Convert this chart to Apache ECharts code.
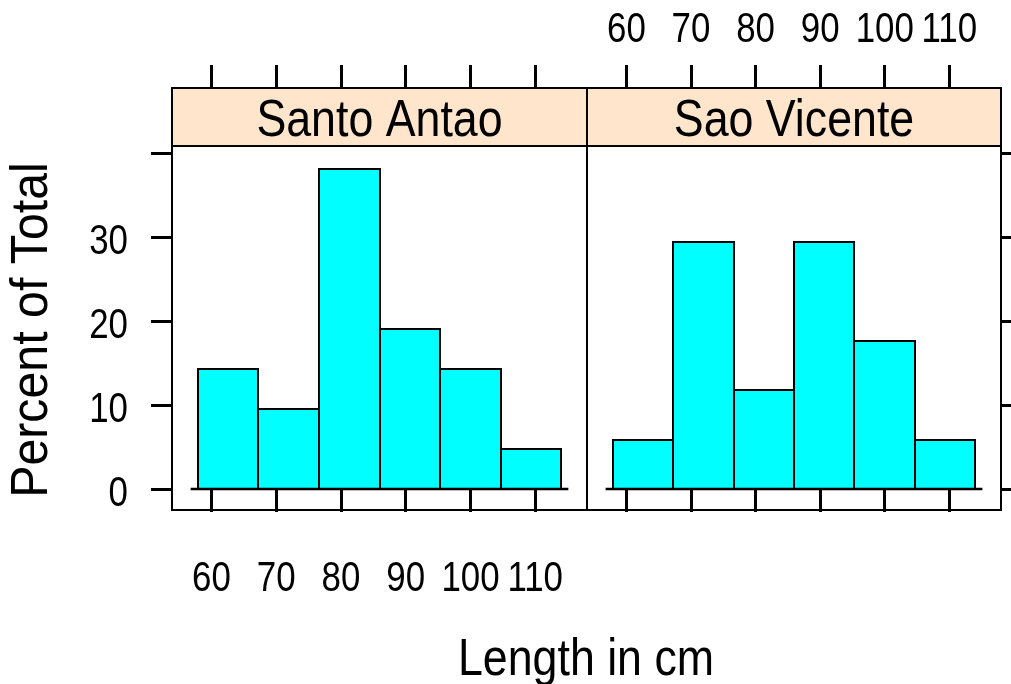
<!DOCTYPE html>
<html>
<head>
<meta charset="utf-8">
<script src="https://cdn.jsdelivr.net/npm/echarts@6/dist/echarts.min.js"></script>
<style>
  html, body { margin: 0; padding: 0; background: #fff; }
  #chart { width: 1011px; height: 684px; }
</style>
</head>
<body>
<div id="chart"></div>
<script>
// Histogram bins (cm) shared by both islands
const binEdges = [57.9, 67.25, 76.6, 85.95, 95.3, 104.65, 114.0];
const panelNames = ['Santo Antao', 'Sao Vicente'];
// Percent of total per bin
const santoAntao = [14.29, 9.52, 38.10, 19.05, 14.29, 4.76];
const saoVicente = [5.88, 29.41, 11.76, 29.41, 17.65, 5.88];
const xTicks = [60, 70, 80, 90, 100, 110];
const yTicks = [0, 10, 20, 30, 40];
const yLabels = [0, 10, 20, 30];
const xTitle = 'Length in cm';
const yTitle = 'Percent of Total';

// ---- layout ----
const FONT = '"Liberation Sans", Arial, sans-serif';
const TICK_FONT = 42, TICK_SQUEEZE = 0.83;     // narrow-looking lettering
const TITLE_FONT = 52, TITLE_SQUEEZE = 0.86;
const panels = [{ left: 172, width: 415 }, { left: 587, width: 414 }];
const TOP = 146, HEIGHT = 364, STRIP_TOP = 88;
const X_MIN = 53.9, X_MAX = 118.0, Y_MIN = -2.5, Y_MAX = 40.9;
const tickStyle = { color: '#000', width: 3 };

function xAxisDef(gridIndex, position) {
  return {
    type: 'value', gridIndex, position,
    offset: position === 'top' ? TOP - STRIP_TOP : 0,
    min: X_MIN, max: X_MAX,
    axisLine: { show: false },
    splitLine: { show: false },
    axisTick: { show: true, inside: false, length: 23, lineStyle: tickStyle, customValues: xTicks },
    axisLabel: { show: false }
  };
}

function yAxisDef(gridIndex, position) {
  return {
    type: 'value', gridIndex, position,
    min: Y_MIN, max: Y_MAX,
    axisLine: { show: false },
    splitLine: { show: false },
    axisTick: { show: true, inside: false, length: 21, lineStyle: tickStyle, customValues: yTicks },
    axisLabel: { show: false }
  };
}

function barItems(values) {
  return values.map((v, i) => [binEdges[i], binEdges[i + 1], v]);
}

function histSeries(values, xIdx, yIdx) {
  return {
    type: 'custom', xAxisIndex: xIdx, yAxisIndex: yIdx,
    data: barItems(values),
    encode: { x: [0, 1], y: 2 },
    renderItem: function (params, api) {
      const p0 = api.coord([api.value(0), 0]);
      const p1 = api.coord([api.value(1), api.value(2)]);
      const x0 = Math.round(p0[0]), x1 = Math.round(p1[0]);
      const yb = Math.round(p0[1]), yt = Math.round(p1[1]);
      return {
        type: 'rect',
        shape: { x: x0, y: yt, width: x1 - x0, height: yb - yt },
        style: { fill: '#00FFFF', stroke: '#000', lineWidth: 2 }
      };
    },
    z: 2
  };
}

// horizontal zero line slightly wider than the bins
const binWidth = binEdges[1] - binEdges[0];
const overhang = 0.12 * binWidth;
function baseSeries(xIdx, yIdx) {
  return {
    type: 'line', xAxisIndex: xIdx, yAxisIndex: yIdx,
    data: [[binEdges[0] - overhang, 0], [binEdges[binEdges.length - 1] + overhang, 0]],
    symbol: 'none', silent: true,
    lineStyle: { color: '#000', width: 2.5 },
    z: 3
  };
}

const chart = echarts.init(document.getElementById('chart'), null, { renderer: 'canvas' });
chart.setOption({
  animation: false,
  backgroundColor: '#fff',
  grid: panels.map(p => ({
    left: p.left, top: TOP, width: p.width, height: HEIGHT,
    show: true, borderColor: '#000', borderWidth: 2, backgroundColor: 'transparent',
    containLabel: false, outerBoundsMode: 'none'
  })),
  xAxis: [
    xAxisDef(0, 'bottom'),
    xAxisDef(0, 'top'),
    xAxisDef(1, 'bottom'),
    xAxisDef(1, 'top')
  ],
  yAxis: [
    yAxisDef(0, 'left'),
    yAxisDef(1, 'right')
  ],
  series: [
    histSeries(santoAntao, 0, 0),
    baseSeries(0, 0),
    histSeries(saoVicente, 2, 1),
    baseSeries(2, 1)
  ]
});

// ---- text: strips, tick labels and titles (placed through the axis scales) ----
function label(text, x, y, opts) {
  return {
    type: 'text', silent: true, x, y,
    scaleX: opts.squeeze, rotation: opts.rotation || 0,
    style: {
      text: String(text), align: opts.align || 'center', verticalAlign: 'middle',
      fontSize: opts.size, fontFamily: FONT, fill: '#000'
    },
    z: 10
  };
}

const graphics = [];
panels.forEach((p, i) => {
  graphics.push({
    type: 'rect', silent: true,
    shape: { x: p.left, y: STRIP_TOP, width: p.width, height: TOP - STRIP_TOP },
    style: { fill: '#FFE5CC', stroke: '#000', lineWidth: 2 }
  });
  graphics.push(label(panelNames[i], p.left + p.width / 2, 122, { size: TITLE_FONT, squeeze: TITLE_SQUEEZE }));
});

// bottom labels for the left panel, top labels for the right panel
xTicks.forEach(v => {
  const xb = chart.convertToPixel({ xAxisIndex: 0 }, v);
  graphics.push(label(v, xb, 579, { size: TICK_FONT, squeeze: TICK_SQUEEZE }));
  const xt = chart.convertToPixel({ xAxisIndex: 3 }, v);
  graphics.push(label(v, xt, 30.5, { size: TICK_FONT, squeeze: TICK_SQUEEZE }));
});
yLabels.forEach(v => {
  const y = chart.convertToPixel({ yAxisIndex: 0 }, v);
  graphics.push(label(v, 128, y + 5, { size: TICK_FONT, squeeze: TICK_SQUEEZE, align: 'right' }));
});

graphics.push(label(xTitle, 586, 661, { size: TITLE_FONT, squeeze: TITLE_SQUEEZE }));
graphics.push(label(yTitle, 33, 330, { size: 52.5, squeeze: 0.92, rotation: Math.PI / 2 }));

chart.setOption({ graphic: graphics });
</script>
</body>
</html>
